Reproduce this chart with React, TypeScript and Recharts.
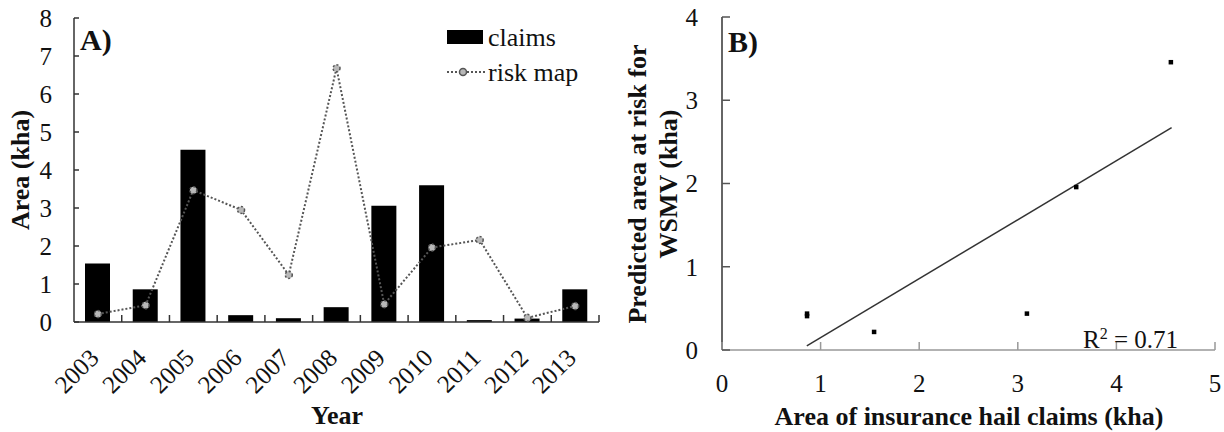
import React from 'react';
import {
  ComposedChart, Bar, Line, XAxis, YAxis, Legend,
  ScatterChart, Scatter, ReferenceLine,
} from 'recharts';

// ---------- Panel A data ----------
const years = ['2003', '2004', '2005', '2006', '2007', '2008', '2009', '2010', '2011', '2012', '2013'];
const claims = [1.54, 0.86, 4.53, 0.18, 0.1, 0.39, 3.06, 3.6, 0.05, 0.09, 0.86];
const riskMap = [0.21, 0.44, 3.47, 2.95, 1.24, 6.68, 0.47, 1.96, 2.16, 0.11, 0.42];
const yTicksA = [0, 1, 2, 3, 4, 5, 6, 7, 8];

// ---------- Panel B data ----------
const claimsArea = [1.54, 0.86, 4.55, 3.09, 3.59, 0.86];
const predictedArea = [0.22, 0.44, 3.46, 0.44, 1.96, 0.41];
const trendStart = { x: 0.86, y: 0.05 };
const trendEnd = { x: 4.56, y: 2.67 };
const xTicksB = [0, 1, 2, 3, 4, 5];
const yTicksB = [0, 1, 2, 3, 4];
const r2Text = '0.71';

const dataA = years.map((y, i) => ({ year: y, claims: claims[i], risk: riskMap[i] }));
const dataB = claimsArea.map((x, i) => ({ x, y: predictedArea[i] }));

const FONT = "'Liberation Serif', 'Times New Roman', serif";

const YTick = (p: any, gap: number, len: number, color: string) => {
  const { x, y, payload } = p;
  return (
    <g>
      <line x1={x + gap} x2={x + gap + len} y1={y} y2={y} stroke={color} strokeWidth={1.5} />
      <text x={x} y={y} dy="0.35em" textAnchor="end" fontSize={25} fontFamily={FONT} fill="#111">
        {payload.value}
      </text>
    </g>
  );
};

const XTickA = (p: any) => {
  const { x, y, payload, width, visibleTicksCount } = p;
  let off = payload && payload.offset ? payload.offset : 0;
  if (!off && width && visibleTicksCount) off = width / visibleTicksCount / 2;
  const axisY = y - 10;
  const ax = x - 10;
  const ay = y + 15;
  return (
    <g>
      <line x1={x + off} x2={x + off} y1={axisY} y2={axisY - 7} stroke="#333" strokeWidth={1.5} />
      <text
        x={ax}
        y={ay}
        dy="0.7em"
        textAnchor="end"
        fontSize={25}
        fontFamily={FONT}
        fill="#111"
        transform={`rotate(-45 ${ax} ${ay})`}
      >
        {payload.value}
      </text>
    </g>
  );
};

const XTickB = (p: any) => {
  const { x, y, payload } = p;
  const axisY = y - 24;
  return (
    <g>
      <line x1={x} x2={x} y1={axisY} y2={axisY - 8} stroke="#999" strokeWidth={1.5} />
      <text x={x} y={y} dy="0.71em" textAnchor="middle" fontSize={25} fontFamily={FONT} fill="#111">
        {payload.value}
      </text>
    </g>
  );
};

const SquarePoint = (p: any) => (
  <rect x={p.cx - 2} y={p.cy - 2} width={4.5} height={4.5} fill="#000" />
);

const LegendA = () => (
  <svg width={160} height={70}>
    <rect x={0} y={10} width={36} height={14} fill="#000" />
    <text x={41} y={17} dy="0.35em" fontSize={26} fontFamily={FONT} fill="#111">claims</text>
    <line x1={0} x2={38} y1={52} y2={52} stroke="#555" strokeWidth={2} strokeDasharray="2 2" />
    <circle cx={16} cy={52} r={3.5} fill="#b8b8b8" stroke="#555" strokeWidth={1.5} />
    <text x={41} y={52} dy="0.35em" fontSize={26} fontFamily={FONT} fill="#111">risk map</text>
  </svg>
);

export default function App() {
  return (
    <div style={{ position: 'absolute', left: 0, top: 0, width: 1224, height: 432, background: '#fff' }}>
      <div style={{ position: 'absolute', left: 0, top: 0 }}>
        <ComposedChart width={612} height={432} data={dataA} margin={{ top: 18, right: 13, bottom: 0, left: 0 }}>
          <XAxis
            dataKey="year"
            height={110}
            interval={0}
            tickSize={0}
            tickMargin={10}
            tickLine={false}
            axisLine={{ stroke: '#333', strokeWidth: 1.5 }}
            tick={XTickA}
          />
          <XAxis xAxisId="top" dataKey="year" orientation="top" height={0} tick={false} tickLine={false} axisLine={{ stroke: '#333', strokeWidth: 1.5 }} />
          <YAxis
            width={74}
            domain={[0, 8]}
            ticks={yTicksA}
            interval={0}
            tickSize={0}
            tickMargin={22}
            tickLine={false}
            axisLine={{ stroke: '#333', strokeWidth: 1.5 }}
            tick={(p: any) => YTick(p, 22, 5, '#333')}
          />
          <YAxis yAxisId="r" orientation="right" width={0} domain={[0, 8]} tick={false} tickLine={false} axisLine={{ stroke: '#333', strokeWidth: 1.5 }} />
          <Legend
            layout="vertical"
            verticalAlign="middle"
            align="center"
            content={LegendA}
            wrapperStyle={{ top: 20, left: 447, width: 160, height: 70 }}
          />
          <Bar dataKey="claims" fill="#000" barSize={25} isAnimationActive={false} />
          <Line
            dataKey="risk"
            type="linear"
            stroke="#555"
            strokeWidth={2}
            strokeDasharray="2 2"
            dot={{ r: 3.5, fill: '#b8b8b8', stroke: '#555', strokeWidth: 1.5 }}
            activeDot={false}
            isAnimationActive={false}
          />
        </ComposedChart>
      </div>
      <div style={{ position: 'absolute', left: 612, top: 0 }}>
        <ScatterChart width={612} height={432} margin={{ top: 17, right: 9, bottom: 0, left: 0 }}>
          <XAxis
            type="number"
            dataKey="x"
            domain={[0, 5]}
            ticks={xTicksB}
            interval={0}
            height={82}
            tickSize={0}
            tickMargin={24}
            tickLine={false}
            axisLine={{ stroke: '#999', strokeWidth: 1.5 }}
            tick={XTickB}
          />
          <XAxis xAxisId="top" type="number" dataKey="x" orientation="top" domain={[0, 5]} height={0} tick={false} tickLine={false} axisLine={{ stroke: '#555', strokeWidth: 1.5 }} />
          <YAxis
            type="number"
            dataKey="y"
            domain={[0, 4]}
            ticks={yTicksB}
            interval={0}
            width={110}
            tickSize={0}
            tickMargin={24}
            tickLine={false}
            axisLine={{ stroke: '#333', strokeWidth: 1.5 }}
            tick={(p: any) => YTick(p, 24, 8, '#555')}
          />
          <YAxis yAxisId="r" type="number" orientation="right" width={0} domain={[0, 4]} tick={false} tickLine={false} axisLine={{ stroke: '#888', strokeWidth: 1.5 }} />
          <ReferenceLine segment={[trendStart, trendEnd]} stroke="#333" strokeWidth={1.5} />
          <Scatter data={dataB} fill="#000" shape={SquarePoint} isAnimationActive={false} />
        </ScatterChart>
      </div>
      <svg width={1224} height={432} style={{ position: 'absolute', left: 0, top: 0, pointerEvents: 'none' }}>
        <text x={80} y={50} fontSize={30} fontWeight="bold" fontFamily={FONT} fill="#111">A)</text>
        <text x={728} y={52} fontSize={30} fontWeight="bold" fontFamily={FONT} fill="#111">B)</text>
        <text
          x={20} y={170} dy="0.35em" textAnchor="middle" fontSize={26} fontWeight="bold" fontFamily={FONT} fill="#111"
          transform="rotate(-90 20 170)"
        >Area (kha)</text>
        <text x={337} y={424} textAnchor="middle" fontSize={26} fontWeight="bold" fontFamily={FONT} fill="#111">Year</text>
        <text
          x={637} y={184} dy="0.35em" textAnchor="middle" fontSize={26} fontWeight="bold" fontFamily={FONT} fill="#111"
          transform="rotate(-90 637 184)"
        >Predicted area at risk for</text>
        <text
          x={668} y={184} dy="0.35em" textAnchor="middle" fontSize={26} fontWeight="bold" fontFamily={FONT} fill="#111"
          transform="rotate(-90 668 184)"
        >WSMV (kha)</text>
        <text x={969} y={425} textAnchor="middle" fontSize={26} fontWeight="bold" fontFamily={FONT} fill="#111">Area of insurance hail claims (kha)</text>
        <text x={1178} y={348} textAnchor="end" fontSize={25} fontFamily={FONT} fill="#111">
          R<tspan fontSize={16} dy={-9}>2</tspan><tspan dy={9}>{' = ' + r2Text}</tspan>
        </text>
      </svg>
    </div>
  );
}
